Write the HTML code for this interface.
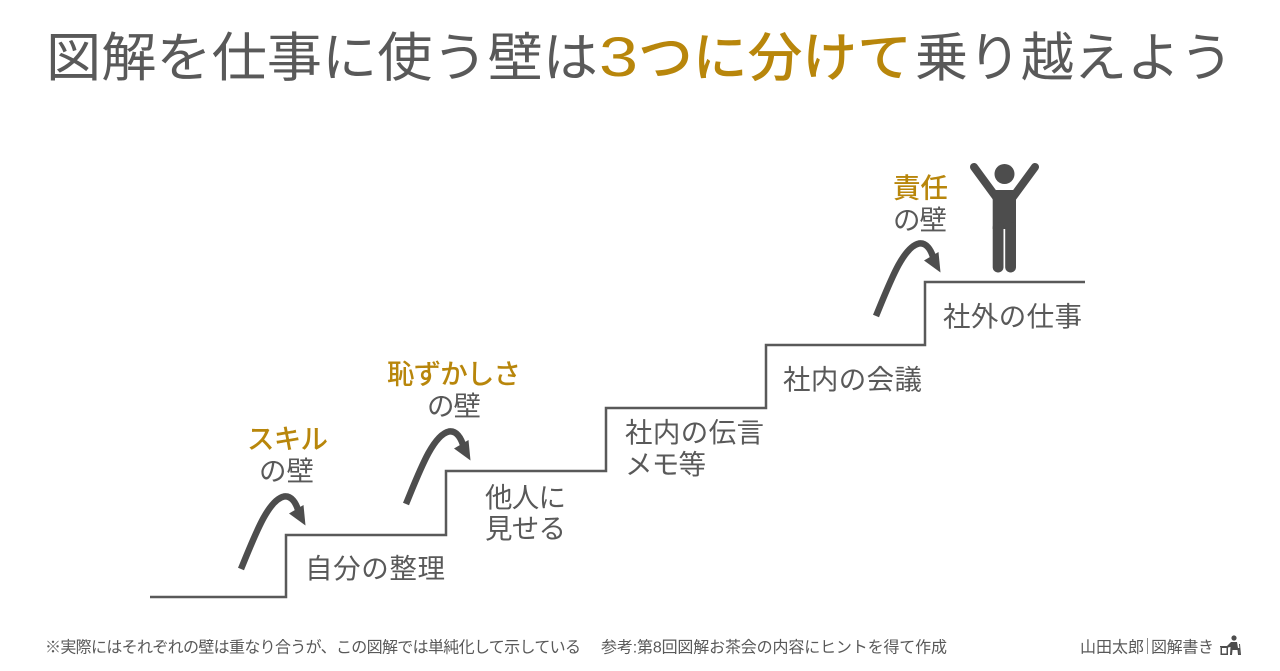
<!DOCTYPE html>
<html lang="ja">
<head>
<meta charset="utf-8">
<style>
html,body{margin:0;padding:0;background:#fff;width:1280px;height:671px;overflow:hidden}
svg{display:block}
text{font-family:"Liberation Sans","Noto Sans CJK JP",sans-serif;fill:#595959}
.g{fill:#b8860b;font-weight:500}
.t{font-size:53px}
.l{font-size:27.500px}
.f{font-size:16px}
</style>
</head>
<body>
<svg width="1280" height="671" viewBox="0 0 1280 671" xmlns="http://www.w3.org/2000/svg">
<text class="t" x="46" y="76" textLength="552" lengthAdjust="spacingAndGlyphs" style="font-family:'Noto Sans CJK JP',sans-serif">図解を仕事に使う壁は</text>
<text x="599" y="76" font-size="56" textLength="39" lengthAdjust="spacingAndGlyphs" style="fill:#b8860b">3</text>
<text class="t g" x="638" y="76" textLength="274" lengthAdjust="spacingAndGlyphs" style="font-family:'Noto Sans CJK JP',sans-serif">つに分けて</text>
<text class="t" x="915" y="76" textLength="318" lengthAdjust="spacingAndGlyphs" style="font-family:'Noto Sans CJK JP',sans-serif">乗り越えよう</text>

<path d="M150 597H286V535H446V471H606V408H766V345H925V282H1085" fill="none" stroke="#595959" stroke-width="2.500"/>

<defs>
<g id="arrow">
<path d="M241 569C255 535 268 500 284 496.500C291 495.500 296 502 299 513" fill="none" stroke="#4d4d4d" stroke-width="6.500"/>
<path d="M305.500 525.500L289 513.500L303.500 505Z" fill="#4d4d4d"/>
</g>
</defs>
<use href="#arrow"/>
<use href="#arrow" x="165" y="-65"/>
<use href="#arrow" x="635" y="-253"/>

<text class="l g" x="247" y="448.500" textLength="81">スキル</text>
<text class="l" x="259" y="480.500" textLength="55">の壁</text>
<text class="l g" x="387" y="383.500" textLength="134">恥ずかしさ</text>
<text class="l" x="427" y="415.500" textLength="54">の壁</text>
<text class="l g" x="893" y="197.500" textLength="55">責任</text>
<text class="l" x="893" y="229.500" textLength="54">の壁</text>

<text class="l" x="305" y="578" textLength="140">自分の整理</text>
<text class="l" x="485" y="507" textLength="81">他人に</text>
<text class="l" x="485" y="538" textLength="81">見せる</text>
<text class="l" x="625" y="442" textLength="139">社内の伝言</text>
<text class="l" x="625" y="474" textLength="81">メモ等</text>
<text class="l" x="783" y="389" textLength="139">社内の会議</text>
<text class="l" x="943" y="326" textLength="139">社外の仕事</text>

<g fill="#4d4d4d">
<circle cx="1004.500" cy="174" r="10"/>
<path d="M974 167L996 197" fill="none" stroke="#4d4d4d" stroke-width="8" stroke-linecap="round"/>
<path d="M1035 167L1013 197" fill="none" stroke="#4d4d4d" stroke-width="8" stroke-linecap="round"/>
<path d="M992.700 190H1016V229H992.700Z"/>
<rect x="992.700" y="222" width="10.800" height="50.500" rx="5.400"/>
<rect x="1005.200" y="222" width="10.800" height="50.500" rx="5.400"/>
</g>

<text class="f" x="45" y="652.500" textLength="536">※実際にはそれぞれの壁は重なり合うが、この図解では単純化して示している</text>
<text class="f" x="601" y="652.500" textLength="346">参考:第8回図解お茶会の内容にヒントを得て作成</text>
<text class="f" x="1080" y="652.500" textLength="64">山田太郎</text>
<rect x="1147" y="638" width="1" height="16" fill="#8c8c8c"/>
<text class="f" x="1151" y="652.500" textLength="63">図解書き</text>

<g fill="#4d4d4d">
<circle cx="1234" cy="638" r="2.600"/>
<path d="M1231 642h6l1 6h1.500l.5 7h-2l-.5-5h-5l-.5 5h-2l.5-8-3.500.5v-1.500z"/>
<path d="M1220 646h9v1.300h-1v7.700h-7.500v-7.700h-.5zM1222 648v5.500h4.500v-5.500z"/>
<path d="M1239 644h1l1 11h-1z"/>
</g>
</svg>
</body>
</html>
